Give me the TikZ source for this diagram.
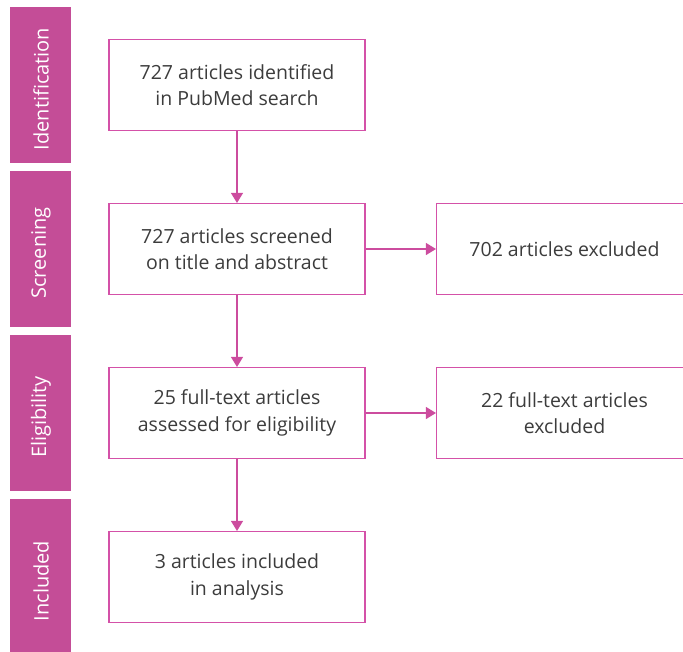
\documentclass[tikz,border=0pt]{standalone}
\usepackage{fontspec}
\setmainfont[Ligatures=NoCommon]{Open Sans}
\usetikzlibrary{arrows.meta}
\definecolor{barfill}{HTML}{C44D97}
\definecolor{boxline}{HTML}{D451A8}
\definecolor{flowline}{HTML}{CC4C9E}
\definecolor{bodytext}{HTML}{3C3C3C}
\tikzset{
  stagebar/.style={fill=barfill, draw=none, minimum width=61pt, minimum height=156pt,
    inner sep=0pt, anchor=north west},
  stagelabel/.style={text=white, rotate=90, font=\fontsize{20}{22}\selectfont},
  flowbox/.style={draw=boxline, line width=1.1pt, minimum width=256pt, minimum height=91pt,
    inner sep=0pt, align=center, text=bodytext, font=\fontsize{19.5}{26.5}\selectfont},
  flowarrow/.style={draw=flowline, line width=1.1pt, -{Triangle[length=10pt,width=12pt]}}
}
\begin{document}
\begin{tikzpicture}[x=1pt,y=-1pt]
  \useasboundingbox (0,0) rectangle (683,651);
  \clip (0,0) rectangle (683,651);
  % stage bars down the left side
  \node[stagebar] (b1) at (10,7) {};
  \node[stagebar] (b2) at (10,171) {};
  \node[stagebar] (b3) at (10,335) {};
  \node[stagebar] (b4) at (10,499) {};
  \node[stagelabel] (l1) at (41,89) {Identification};
  \node[stagelabel] (l2) at (41,253) {Screening};
  \node[stagelabel] (l3) at (41,417) {Eligibility};
  \node[stagelabel] (l4) at (41,581) {Included};
  % main flow
  \node[flowbox] (n1) at (237,85) {727 articles identified\\in PubMed search};
  \node[flowbox] (n2) at (237,249) {727 articles screened\\on title and abstract};
  \node[flowbox] (n3) at (237,413) {25 full-text articles\\assessed for eligibility};
  \node[flowbox] (n4) at (237,577) {3 articles included\\in analysis};
  % exclusions
  \node[flowbox] (x2) at (564.5,249) {702 articles excluded};
  \node[flowbox] (x3) at (564.5,413) {22 full-text articles\\excluded};
  % connectors
  \draw[flowarrow] (n1) -- (n2);
  \draw[flowarrow] (n2) -- (n3);
  \draw[flowarrow] (n3) -- (n4);
  \draw[flowarrow] (n2) -- (x2);
  \draw[flowarrow] (n3) -- (x3);
\end{tikzpicture}
\end{document}
